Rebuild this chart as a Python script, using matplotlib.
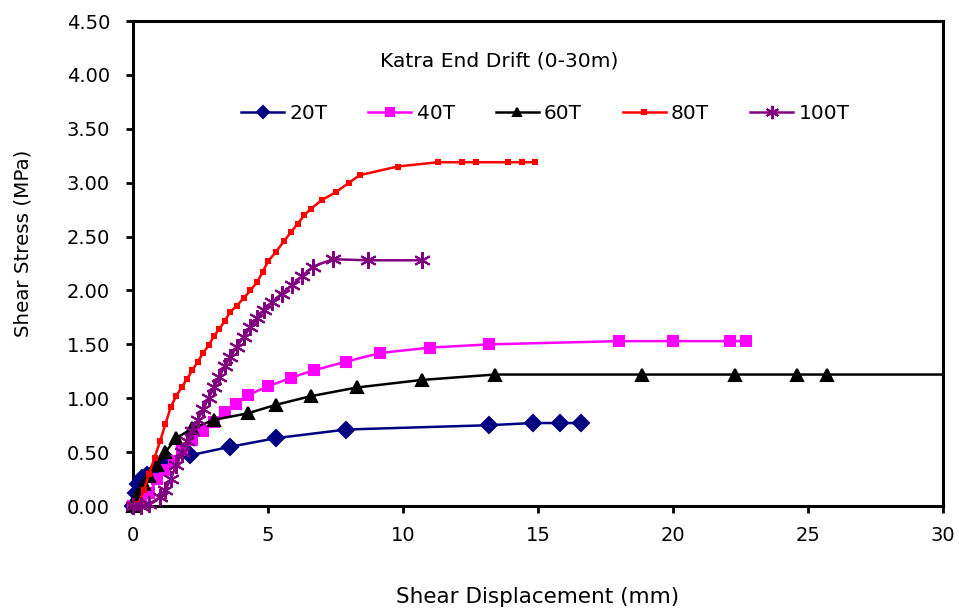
import matplotlib
matplotlib.use("Agg")
import matplotlib.pyplot as plt

plt.rcParams["font.family"] = ["DejaVu Sans"]

# ── data: shear displacement (mm) vs shear stress (MPa) per normal load ──────

d_20t = [0, 0.1, 0.2, 0.35, 0.5, 0.7, 1.0, 1.3, 2.1, 3.6, 5.3, 7.9, 13.2, 14.8, 15.8, 16.6]
s_20t = [0, 0.12, 0.2, 0.26, 0.29, 0.30, 0.38, 0.43, 0.47, 0.55, 0.63, 0.71, 0.75, 0.77, 0.77, 0.77]

d_40t = [0, 0.3, 0.6, 0.9, 1.2, 1.5, 1.8, 2.2, 2.6, 3.0, 3.4, 3.8, 4.25, 5.0, 5.85,
         6.7, 7.9, 9.15, 11.0, 13.2, 18.0, 20.0, 22.1, 22.7]
s_40t = [0, 0.03, 0.12, 0.25, 0.33, 0.42, 0.52, 0.61, 0.70, 0.78, 0.87, 0.95, 1.03, 1.11, 1.19,
         1.26, 1.34, 1.42, 1.47, 1.50, 1.53, 1.53, 1.53, 1.53]

d_60t = [0, 0.15, 0.4, 0.6, 0.9, 1.2, 1.6, 2.2, 3.0, 4.25, 5.3, 6.6, 8.3, 10.7,
         13.4, 18.85, 22.3, 24.6, 25.7, 30.0]
s_60t = [0, 0.10, 0.20, 0.28, 0.38, 0.50, 0.63, 0.72, 0.80, 0.86, 0.94, 1.02, 1.10, 1.17,
         1.22, 1.22, 1.22, 1.22, 1.22, 1.22]

d_80t = [0, 0.2, 0.4, 0.6, 0.8, 1.0, 1.2, 1.4, 1.6, 1.8, 2.0, 2.2, 2.4, 2.6, 2.8, 3.0,
         3.2, 3.4, 3.6, 3.85, 4.1, 4.35, 4.6, 4.8, 5.0, 5.3, 5.6, 5.85, 6.1, 6.35, 6.6,
         7.0, 7.5, 8.0, 8.4, 9.8, 11.3, 12.2, 12.7, 13.9, 14.4, 14.9]
s_80t = [0, 0.02, 0.15, 0.30, 0.45, 0.60, 0.76, 0.92, 1.02, 1.10, 1.18, 1.26, 1.34, 1.42, 1.49, 1.58,
         1.64, 1.72, 1.80, 1.86, 1.93, 2.00, 2.08, 2.17, 2.27, 2.36, 2.46, 2.54, 2.62, 2.70, 2.76,
         2.84, 2.91, 3.00, 3.07, 3.15, 3.19, 3.19, 3.19, 3.19, 3.19, 3.19]

d_100t = [0, 0.3, 0.6, 1.0, 1.2, 1.4, 1.6, 1.8, 2.0, 2.2, 2.4, 2.6, 2.8, 3.0, 3.2, 3.4,
          3.6, 3.85, 4.1, 4.35, 4.6, 4.85, 5.15, 5.5, 5.9, 6.25, 6.65, 7.4, 8.7, 10.7]
s_100t = [0, 0.0, 0.02, 0.08, 0.15, 0.25, 0.38, 0.50, 0.60, 0.70, 0.80, 0.90, 1.00, 1.10, 1.20, 1.30,
          1.38, 1.48, 1.57, 1.66, 1.74, 1.82, 1.89, 1.97, 2.05, 2.13, 2.22, 2.29, 2.28, 2.28]

x_ticks = [0, 5, 10, 15, 20, 25, 30]
y_ticks = [0.0, 0.5, 1.0, 1.5, 2.0, 2.5, 3.0, 3.5, 4.0, 4.5]

# (label, x, y, colour, marker, marker size)
series = [
    ("20T", d_20t, s_20t, "#000080", "D", 8),
    ("40T", d_40t, s_40t, "#ff00ff", "s", 7),
    ("60T", d_60t, s_60t, "#000000", "^", 8),
    ("80T", d_80t, s_80t, "#ff0000", "s", 3.5),
    ("100T", d_100t, s_100t, "#800080", (6, 2, 0), 12),
]

fig = plt.figure(figsize=(9.59, 6.11), dpi=100)
ax = fig.add_axes([0.1387, 0.1718, 0.8446, 0.7938])

for label, x, y, color, marker, ms in series:
    # the 60T run carries on past the axis edge, so its end point has no marker
    marks = list(range(len(x) - 1)) if x[-1] >= 30 else None
    ax.plot(x, y, color=color, lw=1.8, marker=marker, markersize=ms,
            markerfacecolor=color, markeredgecolor=color, markeredgewidth=1.5,
            markevery=marks, label=label, clip_on=False, zorder=3)

ax.set_xlim(0, 30)
ax.set_ylim(0, 4.5)
ax.set_xticks(x_ticks)
ax.set_yticks(y_ticks)
ax.set_yticklabels([f"{v:.2f}" for v in y_ticks])
ax.tick_params(axis="both", direction="out", length=5, width=2, labelsize=14)
ax.tick_params(axis="y", pad=11.5)
ax.tick_params(axis="x", pad=9.5)

for sp in ax.spines.values():
    sp.set_linewidth(2.2)

ax.set_xlabel("Shear Displacement (mm)", fontsize=15.5, va="top")
ax.xaxis.set_label_coords(0.5, -0.167)
ax.set_ylabel("Shear Stress (MPa)", fontsize=14.3)
ax.yaxis.set_label_coords(-0.1235, 0.542)

ax.text(0.452, 0.9175, "Katra End Drift (0-30m)", transform=ax.transAxes,
        ha="center", va="center", fontsize=14.6)

ax.legend(loc="center left", bbox_to_anchor=(0.111, 0.81), ncol=5, frameon=False,
          fontsize=14.5, handlelength=2.14, handletextpad=0.25, columnspacing=2.04,
          markerscale=0.8)

fig.savefig("out.png", dpi=100)
